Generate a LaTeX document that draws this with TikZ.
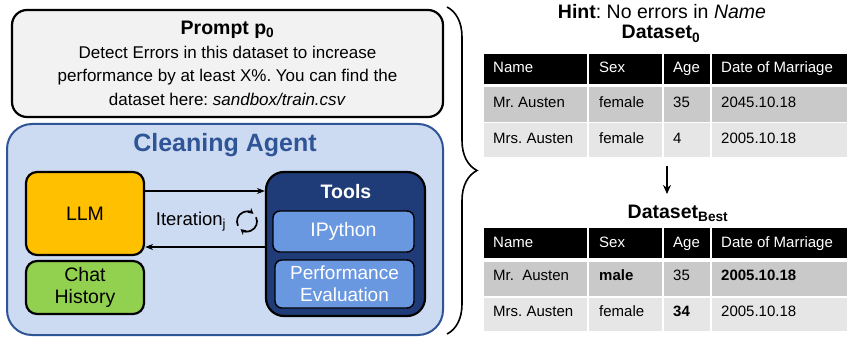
\documentclass[tikz,border=0pt]{standalone}
\usepackage{fontspec}
\setmainfont{Liberation Sans}
\usepackage{xcolor}
\usetikzlibrary{positioning,arrows.meta,decorations.pathreplacing}
\frenchspacing

\definecolor{promptgray}{HTML}{F2F2F2}
\definecolor{agentfill}{HTML}{CCDAF2}
\definecolor{agentblue}{HTML}{2F5597}
\definecolor{llmorange}{HTML}{FFC000}
\definecolor{chatgreen}{HTML}{92D050}
\definecolor{toolsnavy}{HTML}{1F3C78}
\definecolor{toolblue}{HTML}{6A98E0}
\definecolor{rowdark}{HTML}{C9C9C9}
\definecolor{rowlight}{HTML}{E6E6E6}

\tikzstyle{box}=[draw=black, line width=2.2pt, rounded corners=11pt, align=center, inner sep=0pt,
  font=\fontsize{19.5}{23}\selectfont]
\tikzstyle{toolbox}=[box, line width=1.4pt, rounded corners=7pt, fill=toolblue, text=white]
\tikzstyle{flow}=[line width=1.4pt, -{Stealth[length=8pt,width=6pt]}]
\tikzstyle{cell}=[anchor=base west, inner sep=0pt, font=\fontsize{15}{18}\selectfont]
\tikzstyle{head}=[cell, text=white]
\tikzstyle{title}=[anchor=base, inner sep=0pt, font=\fontsize{19.5}{22}\selectfont]

\begin{document}
\begin{tikzpicture}[x=1pt, y=-1pt]
\useasboundingbox (0,0) rectangle (847,337);

% prompt
\node[box, fill=promptgray, rounded corners=15pt, minimum width=431pt, minimum height=107pt,
  font=\fontsize{17}{23.5}\selectfont] (prompt) at (227.5,63.5)
  {{\fontsize{19.5}{22}\selectfont\textbf{Prompt p\textsubscript{0}}}\\Detect Errors in this dataset to increase\\
   performance by at least X\%. You can find the\\dataset here: \textit{sandbox/train.csv}};

% agent
\node[draw=agentblue, line width=2pt, fill=agentfill, rounded corners=25pt,
  minimum width=436pt, minimum height=211pt] (agent) at (225,229.5) {};
\node[inner sep=0pt, text=agentblue, font=\fontsize{25}{28}\selectfont\bfseries] (agentname) at (225,145) {Cleaning Agent};

\node[box, fill=llmorange, minimum width=118pt, minimum height=83pt] (llm) at (85,213.5) {LLM};
\node[box, fill=chatgreen, minimum width=118pt, minimum height=53pt, font=\fontsize{19.5}{22}\selectfont] (chat) at (85,287.5) {Chat\\History};

\node[box, fill=toolsnavy, rounded corners=18pt, minimum width=159pt, minimum height=144pt] (tools) at (345.5,244) {};
\node[inner sep=0pt, text=white, font=\fontsize{19.5}{22}\selectfont\bfseries] (toolsname) at (346,192) {Tools};
\node[toolbox, minimum width=141pt, minimum height=41pt] (ipython) at (343.5,231.5) {IPython};
\node[toolbox, minimum width=139pt, minimum height=48pt, font=\fontsize{19}{22}\selectfont] (perf) at (344.5,284) {Performance\\Evaluation};

% iteration arrows
\coordinate (itop) at (0,191);
\coordinate (ibot) at (0,247);
\draw[flow] (llm.east |- itop) -- (tools.west |- itop);
\draw[flow] (tools.west |- ibot) -- (llm.east |- ibot);
\node[anchor=base, inner sep=0pt, font=\fontsize{18.5}{21}\selectfont] (iter) at (191,225) {Iteration\textsubscript{j}};

\coordinate (cyc) at (247,221.5);
\draw[line width=1.7pt, -{Stealth[length=5.5pt,width=6pt]}] ([shift={(-205:10)}]cyc) arc[start angle=-205, end angle=-50, radius=10];
\draw[line width=1.7pt, -{Stealth[length=5.5pt,width=6pt]}] ([shift={(-25:10)}]cyc) arc[start angle=-25, end angle=130, radius=10];

% brace
\draw[decorate, decoration={brace, amplitude=30pt}, line width=1.6pt] (447,7) -- (447,334);

% hint and Dataset_0
\node[title] (hint) at (662,18.3) {\textbf{Hint}: No errors in \textit{Name}};
\node[title] (ds0) at (661,39) {\textbf{Dataset\textsubscript{0}}};

\foreach \xa/\xb in {483/588,588/663,663/711,711/849} {
  \foreach \ya/\yb/\c in {53/85/black,86.5/122.5/rowdark,122.5/158/rowlight}
    \filldraw[fill=\c, draw=white, line width=1.5pt] (\xa,\ya) rectangle (\xb,\yb);
}
\foreach \x/\t [count=\i] in {493/Name,599/Sex,673/Age,721/Date of Marriage}
  \node[head] (ha\i) at (\x,72.3) {\t};
\foreach \x/\a/\b [count=\i] in {493/Mr. Austen/Mrs. Austen,599/female/female,673/35/4,721/2045.10.18/2005.10.18} {
  \node[cell] (ra\i) at (\x,107.7) {\a};
  \node[cell] (sa\i) at (\x,143.3) {\b};
}

% Dataset_Best
\coordinate (down) at (667,166);
\coordinate (downend) at (667,194);
\draw[line width=2pt, -{Stealth[length=9pt,width=8pt]}] (down) -- (downend);
\node[title] (dsbest) at (678,218.3) {\textbf{Dataset\textsubscript{Best}}};

\foreach \xa/\xb in {483/588,588/663,663/711,711/849} {
  \foreach \ya/\yb/\c in {227/259/black,261/297/rowdark,297/332/rowlight}
    \filldraw[fill=\c, draw=white, line width=1.5pt] (\xa,\ya) rectangle (\xb,\yb);
}
\foreach \x/\t [count=\i] in {493/Name,599/Sex,673/Age,721/Date of Marriage}
  \node[head] (hb\i) at (\x,247.3) {\t};
\foreach \x/\a/\b [count=\i] in {493/Mr.\ \ Austen/Mrs. Austen,599/\textbf{male}/female,673/35/\textbf{34},721/\textbf{2005.10.18}/2005.10.18} {
  \node[cell] (rb\i) at (\x,280.7) {\a};
  \node[cell] (sb\i) at (\x,316.7) {\b};
}

\end{tikzpicture}
\end{document}
